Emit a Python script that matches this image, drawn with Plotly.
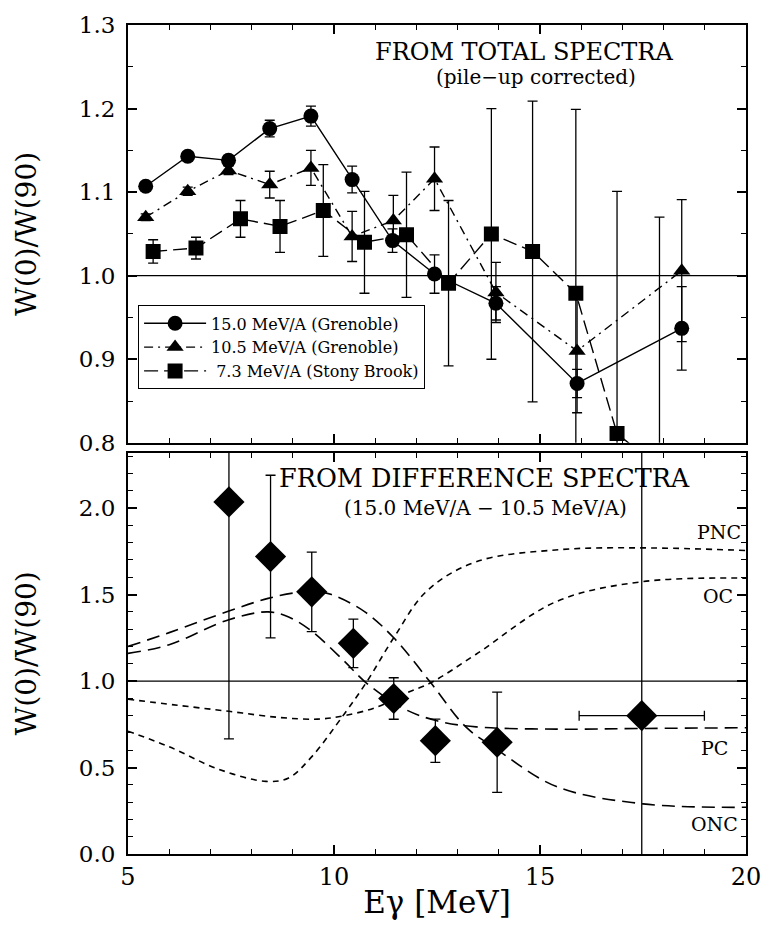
import plotly.graph_objects as go
from plotly.subplots import make_subplots

# ---------------- top panel data ----------------
e15 = [5.43, 6.45, 7.44, 8.44, 9.44, 10.44, 11.42, 12.44, 13.93, 15.90, 18.44]
w15 = [1.107, 1.143, 1.138, 1.176, 1.191, 1.115, 1.042, 1.002, 0.967, 0.871, 0.937]
w15_err = [0.004, 0.004, 0.006, 0.010, 0.012, 0.016, 0.014, 0.023, 0.020, 0.017, 0.050]

e105 = [5.43, 6.45, 7.44, 8.44, 9.44, 10.44, 11.44, 12.44, 13.93, 15.90, 18.44]
w105 = [1.070, 1.101, 1.126, 1.109, 1.129, 1.047, 1.066, 1.116, 0.980, 0.910, 1.006]
w105_err = [0.004, 0.005, 0.005, 0.016, 0.021, 0.030, 0.030, 0.038, 0.036, 0.074, 0.085]

e73 = [5.61, 6.65, 7.73, 8.69, 9.74, 10.74, 11.76, 12.78, 13.82, 14.82, 15.87, 16.87, 17.90]
w73 = [1.029, 1.033, 1.068, 1.059, 1.078, 1.040, 1.049, 0.991, 1.050, 1.029, 0.979, 0.811, 0.770]
w73_err = [0.014, 0.013, 0.022, 0.031, 0.055, 0.061, 0.075, 0.099, 0.150, 0.180, 0.220, 0.290, 0.300]

# ---------------- bottom panel data ----------------
e_diff = [7.45, 8.46, 9.46, 10.47, 11.45, 12.46, 13.96, 17.47]
w_diff = [2.036, 1.720, 1.516, 1.218, 0.899, 0.655, 0.646, 0.800]
w_diff_err = [1.37, 0.47, 0.23, 0.14, 0.12, 0.125, 0.29, 1.70]
e_diff_xerr = [0, 0, 0, 0, 0, 0, 0, 1.52]

# model curves
onc_x = [5, 6, 7.45, 8.4, 9.1, 9.5, 9.94, 10.75, 11.45, 12.35, 13.2, 13.95, 15.4, 17.5, 20]
onc_y = [1.20, 1.28, 1.405, 1.478, 1.512, 1.518, 1.50, 1.40, 1.25, 0.99, 0.735, 0.605, 0.39, 0.29, 0.27]

pc_x = [5, 6, 7.45, 8.4, 8.9, 9.45, 10.25, 10.78, 11.7, 12.5, 13.45, 15.4, 17.5, 20]
pc_y = [1.16, 1.21, 1.355, 1.40, 1.37, 1.29, 1.115, 0.99, 0.84, 0.77, 0.735, 0.722, 0.726, 0.73]

pnc_x = [5, 6, 7.2, 8.35, 8.9, 9.45, 10.25, 10.78, 11.45, 12.25, 13.45, 15.5, 17.5, 20]
pnc_y = [0.71, 0.62, 0.49, 0.42, 0.44, 0.56, 0.81, 0.99, 1.25, 1.52, 1.69, 1.76, 1.77, 1.755]

oc_x = [5, 6.2, 7.45, 8.65, 9.6, 10.25, 11.05, 11.7, 12.35, 13.45, 15.4, 17.5, 20]
oc_y = [0.895, 0.86, 0.825, 0.79, 0.78, 0.80, 0.85, 0.925, 0.99, 1.155, 1.46, 1.575, 1.595]

UNITY = 1.0

curve_labels = ["PNC", "OC", "PC", "ONC"]
curve_label_x = [19.35, 19.33, 19.23, 19.23]
curve_label_y = [1.86, 1.49, 0.615, 0.175]

SERIF = "DejaVu Serif"

fig = make_subplots(rows=2, cols=1)

err_style = dict(type="data", thickness=1.3, width=5, color="black")

fig.add_trace(go.Scatter(
    x=e15, y=w15, mode="lines+markers", name="15.0 MeV/A (Grenoble)",
    line=dict(color="black", width=1.4),
    marker=dict(symbol="circle", size=15, color="black"),
    error_y=dict(array=w15_err, **err_style)), row=1, col=1)

fig.add_trace(go.Scatter(
    x=e105, y=w105, mode="lines+markers", name="10.5 MeV/A (Grenoble)",
    line=dict(color="black", width=1.4, dash="9px,5px,2px,5px"),
    marker=dict(symbol="triangle-up", size=15, color="black"),
    error_y=dict(array=w105_err, **err_style)), row=1, col=1)

fig.add_trace(go.Scatter(
    x=e73, y=w73, mode="lines+markers", name=" 7.3 MeV/A (Stony Brook)",
    line=dict(color="black", width=1.4, dash="14px,6px"),
    marker=dict(symbol="square", size=15, color="black"),
    error_y=dict(array=w73_err, **err_style)), row=1, col=1)

long_dash = "13px,7px"
short_dash = "6px,5px"
for cx, cy, d in [(onc_x, onc_y, long_dash), (pc_x, pc_y, long_dash),
                  (pnc_x, pnc_y, short_dash), (oc_x, oc_y, short_dash)]:
    fig.add_trace(go.Scatter(
        x=cx, y=cy, mode="lines", showlegend=False,
        line=dict(color="black", width=1.6, dash=d, shape="spline", smoothing=1.0)),
        row=2, col=1)

fig.add_trace(go.Scatter(
    x=e_diff, y=w_diff, mode="markers", showlegend=False,
    marker=dict(symbol="diamond", size=24, color="black"),
    error_y=dict(array=w_diff_err, **err_style),
    error_x=dict(array=e_diff_xerr, **err_style)), row=2, col=1)

fig.add_hline(y=UNITY, line_width=1.2, line_color="black", layer="below", row=1, col=1)
fig.add_hline(y=UNITY, line_width=1.2, line_color="black", layer="below", row=2, col=1)

tickfont = dict(family=SERIF, size=23, color="black")
common_x = dict(range=[5, 20], dtick=5, tick0=5, ticks="inside", ticklen=9, tickwidth=1.5,
                tickcolor="black", showline=True, linewidth=2, linecolor="black",
                mirror="allticks", showgrid=False, zeroline=False,
                minor=dict(dtick=1, ticks="inside", ticklen=5, tickwidth=1.2, tickcolor="black"))
common_y = dict(ticks="inside", ticklen=9, tickwidth=1.5, tickcolor="black",
                showline=True, linewidth=2, linecolor="black", mirror="allticks",
                showgrid=False, zeroline=False, tickformat=".1f", tickfont=tickfont,
                ticklabelstandoff=6)

fig.update_xaxes(**common_x, showticklabels=False, row=1, col=1)
fig.update_xaxes(**common_x, showticklabels=True, tickfont=dict(family=SERIF, size=24, color="black"),
                 title=dict(text="Eγ [MeV]", font=dict(family=SERIF, size=31, color="black"), standoff=2),
                 row=2, col=1)
fig.update_yaxes(**common_y, range=[0.8, 1.3], dtick=0.1, tick0=0.8,
                 minor=dict(dtick=0.05, ticks="inside", ticklen=5, tickwidth=1.2, tickcolor="black"),
                 title=dict(text="W(0)/W(90)", font=dict(family=SERIF, size=28, color="black"), standoff=34),
                 row=1, col=1)
fig.update_yaxes(**common_y, range=[0, 2.32], dtick=0.5, tick0=0,
                 minor=dict(dtick=0.1, ticks="inside", ticklen=5, tickwidth=1.2, tickcolor="black"),
                 title=dict(text="W(0)/W(90)", font=dict(family=SERIF, size=28, color="black"), standoff=34),
                 row=2, col=1)

fig.update_layout(
    yaxis=dict(domain=[0.496, 1.0]),
    yaxis2=dict(domain=[0.0, 0.484]),
)

annots = [
    dict(x=14.6, y=1.268, xref="x", yref="y", text="FROM TOTAL SPECTRA",
         font=dict(family=SERIF, size=24, color="black"), showarrow=False),
    dict(x=14.9, y=1.238, xref="x", yref="y", text="(pile\u2212up corrected)",
         font=dict(family=SERIF, size=20, color="black"), showarrow=False),
    dict(x=13.65, y=2.175, xref="x2", yref="y2", text="FROM DIFFERENCE SPECTRA",
         font=dict(family=SERIF, size=25.5, color="black"), showarrow=False),
    dict(x=13.68, y=2.0, xref="x2", yref="y2", text="(15.0 MeV/A \u2212 10.5 MeV/A)",
         font=dict(family=SERIF, size=20, color="black"), showarrow=False),
]
for t, lx, ly in zip(curve_labels, curve_label_x, curve_label_y):
    annots.append(dict(x=lx, y=ly, xref="x2", yref="y2", text=t,
                       font=dict(family=SERIF, size=19, color="black"), showarrow=False))

fig.update_layout(
    annotations=annots,
    width=773, height=926,
    margin=dict(l=128, r=20, t=22, b=69),
    paper_bgcolor="white", plot_bgcolor="white",
    font=dict(family=SERIF, color="black"),
    legend=dict(x=0.016, y=0.662, xanchor="left", yanchor="top",
                bordercolor="black", borderwidth=1.2, bgcolor="white",
                font=dict(family=SERIF, size=16, color="black"),
                itemwidth=62, tracegroupgap=0),
)

fig.write_html("out.html", config={"displayModeBar": False},
               post_script="document.body.style.margin='0';")
